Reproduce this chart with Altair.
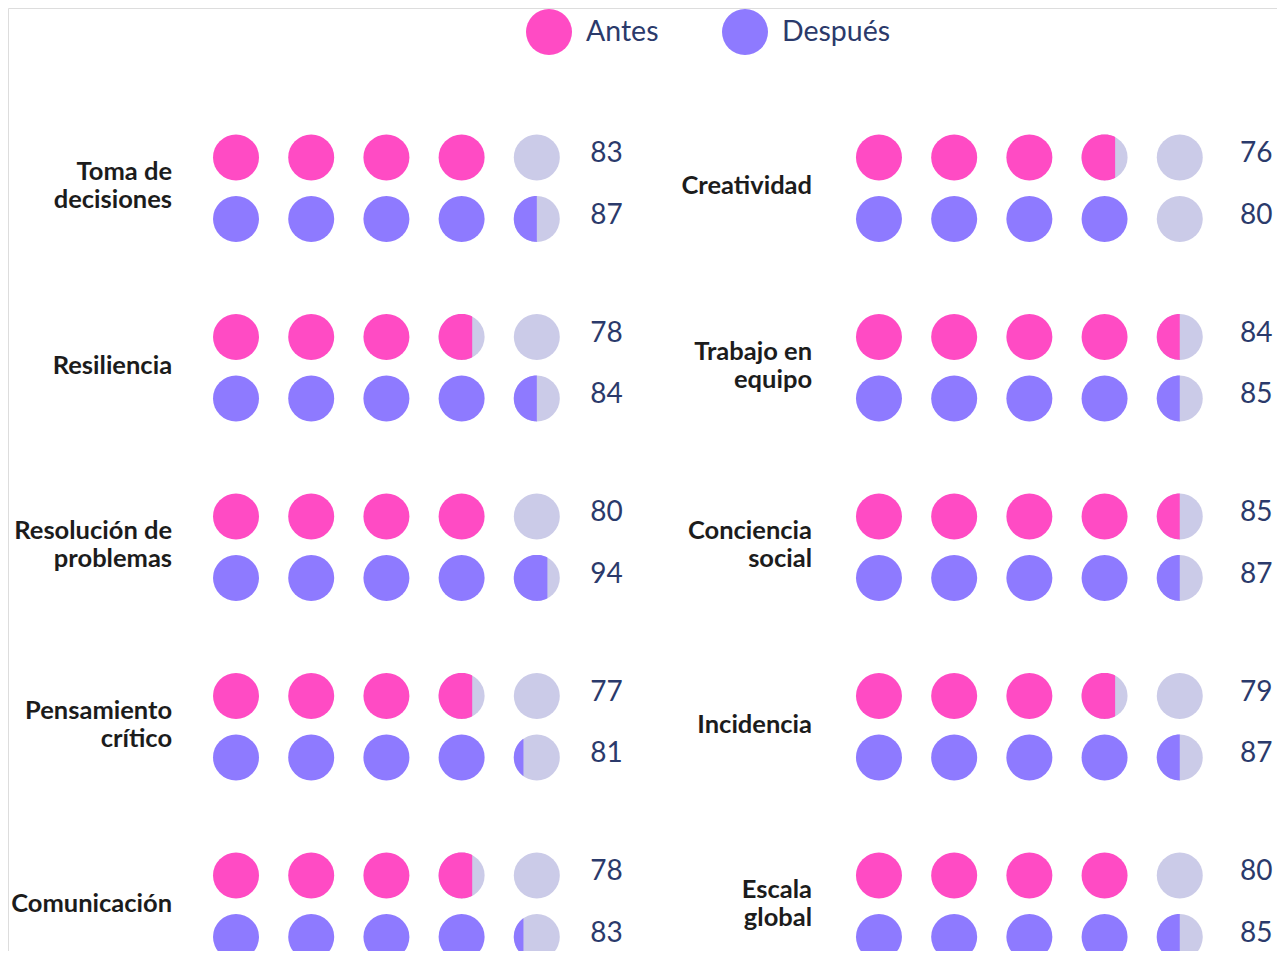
import math
import altair as alt
import pandas as pd

# ---------------- data ----------------
skills_left = ["Toma de\ndecisiones", "Resiliencia", "Resolución de\nproblemas",
               "Pensamiento\ncrítico", "Comunicación"]
skills_right = ["Creatividad", "Trabajo en\nequipo", "Conciencia\nsocial",
                "Incidencia", "Escala\nglobal"]

antes_left = [83, 78, 80, 77, 78]
despues_left = [87, 84, 94, 81, 83]
antes_right = [76, 84, 85, 79, 80]
despues_right = [80, 85, 87, 87, 85]

# number of circles drawn filled (each circle = 20 points), as shown in the source
antes_fill_left = [4.0, 3.73, 4.0, 3.73, 3.73]
despues_fill_left = [4.5, 4.5, 4.73, 4.21, 4.21]
antes_fill_right = [3.73, 4.5, 4.5, 3.73, 4.0]
despues_fill_right = [4.0, 4.5, 4.5, 4.5, 4.5]

series_names = ["Antes", "Después"]

# ---------------- layout / style constants ----------------
PINK = "#ff4bc4"
PURPLE = "#8e7aff"
GRAY = "#cbcbe8"
NAVY = "#2b3a6b"
INK = "#1c1c1c"
N_CIRCLES = 5
COL_OFFSET = 8.55              # in circle slots
SERIES_OFFSET = 0.3426         # in row units
LINE_STEP = 28 / 179.5         # label line height in row units
LABEL_OFFSET = [-0.85, -0.89]  # per column, in circle slots
NUMBER_OFFSET = [4.71, 4.80]   # per column, in circle slots
DOT_SIZE = 2116


def segment_path(f):
    """Left part of a unit circle cut by a vertical chord; f = width fraction."""
    x0 = -1 + 2 * f
    a = math.acos(max(-1.0, min(1.0, x0)))
    n = 60
    pts = []
    for k in range(n + 1):
        t = a + (2 * math.pi - 2 * a) * k / n
        pts.append(f"{math.cos(t):.4f},{math.sin(t):.4f}")
    return "M" + " L".join(pts) + " Z"


columns = [
    (skills_left, antes_left, despues_left, antes_fill_left, despues_fill_left),
    (skills_right, antes_right, despues_right, antes_fill_right, despues_fill_right),
]

circle_rows, number_rows, label_rows = [], [], []
for col, (skills, a_vals, d_vals, a_fill, d_fill) in enumerate(columns):
    for r, skill in enumerate(skills):
        lines = skill.split("\n")
        for k, line in enumerate(lines):
            label_rows.append(dict(
                x=col * COL_OFFSET + LABEL_OFFSET[col],
                y=r + SERIES_OFFSET / 2 + (k - (len(lines) - 1) / 2) * LINE_STEP,
                text=line))
        for s, (val, fill) in enumerate([(a_vals[r], a_fill[r]), (d_vals[r], d_fill[r])]):
            y = r + s * SERIES_OFFSET
            number_rows.append(dict(x=col * COL_OFFSET + NUMBER_OFFSET[col], y=y, text=str(val)))
            for i in range(N_CIRCLES):
                f = min(max(fill - i, 0.0), 1.0)
                if f >= 0.999:
                    shp = "circle"
                elif f > 0:
                    shp = segment_path(f)
                else:
                    shp = ""
                circle_rows.append(dict(x=col * COL_OFFSET + i, y=y,
                                        serie=series_names[s], frac=f, shape=shp))

circles = pd.DataFrame(circle_rows)
numbers = pd.DataFrame(number_rows)
labels = pd.DataFrame(label_rows)

xs = alt.Scale(domain=[-3.032, 13.843], nice=False, zero=False)
ys = alt.Scale(domain=[-0.8323, 4.4212], nice=False, zero=False, reverse=True)
X = alt.X("x:Q", scale=xs, axis=None)
Y = alt.Y("y:Q", scale=ys, axis=None)

bg = alt.Chart(circles[circles["frac"] < 0.999]).mark_point(
    filled=True, opacity=1, strokeWidth=0, shape="circle", size=DOT_SIZE, color=GRAY
).encode(x=X, y=Y)

fg = alt.Chart(circles[circles["frac"] > 0]).mark_point(
    filled=True, opacity=1, strokeWidth=0, size=DOT_SIZE
).encode(
    x=X, y=Y,
    shape=alt.Shape("shape:N", scale=None),
    color=alt.Color(
        "serie:N",
        scale=alt.Scale(domain=series_names, range=[PINK, PURPLE]),
        legend=alt.Legend(
            title=None, orient="none", legendX=518, legendY=1,
            direction="horizontal", symbolType="circle", symbolSize=DOT_SIZE,
            symbolStrokeWidth=0, symbolOpacity=1,
            labelFontSize=28.5, labelFont="Lato", labelFontWeight=400,
            labelColor=NAVY, labelOffset=14, columnPadding=63, padding=0,
        ),
    ),
)

num_text = alt.Chart(numbers).mark_text(
    align="left", baseline="middle", font="Lato", fontSize=28, fontWeight=400,
    color=NAVY, dy=-3
).encode(x=X, y=Y, text="text:N")

label_text = alt.Chart(labels).mark_text(
    align="right", baseline="middle", font="Lato", fontSize=25.5, fontWeight="bold",
    color=INK, dy=-2
).encode(x=X, y=Y, text="text:N")

chart = alt.layer(bg, fg, num_text, label_text).properties(
    width=1269, height=943, padding=0,
    autosize=alt.AutoSizeParams(type="none"),
).configure_view(strokeWidth=0, stroke="transparent").configure(background="white")

chart.save("out.html", embed_options={"renderer": "svg", "actions": False})
